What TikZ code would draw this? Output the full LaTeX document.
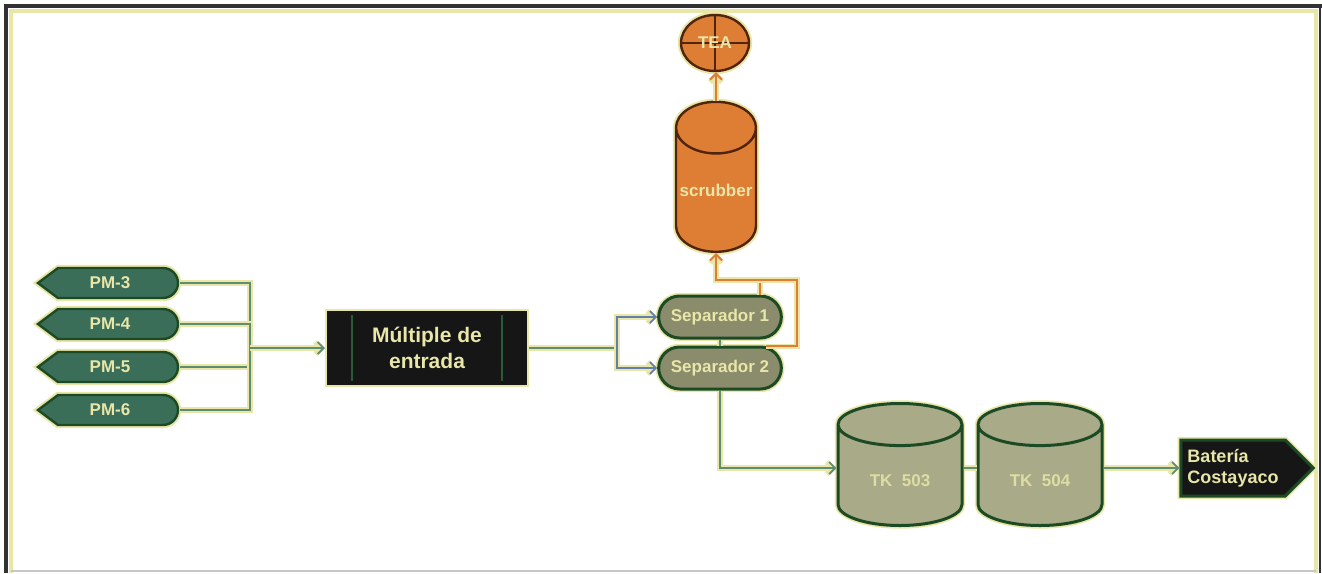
\documentclass[tikz,border=0pt]{standalone}
\usepackage{fontspec}
\setmainfont{Liberation Sans}
\usetikzlibrary{arrows.meta,shapes.geometric,shapes.misc,shapes.symbols}
\definecolor{cream}{RGB}{232,230,168}
\definecolor{darkgreen}{RGB}{28,74,36}
\definecolor{pmgreen}{RGB}{58,110,88}
\definecolor{sepolive}{RGB}{138,140,108}
\definecolor{tkolive}{RGB}{168,170,136}
\definecolor{pipegreen}{RGB}{96,140,112}
\definecolor{pipeblue}{RGB}{100,128,170}
\definecolor{gasorange}{RGB}{222,126,52}
\definecolor{rustbrown}{RGB}{80,36,14}
\definecolor{framegray}{RGB}{50,50,50}
\definecolor{boxblack}{RGB}{22,22,22}
\definecolor{slotgreen}{RGB}{40,92,52}

\begin{document}
\begin{tikzpicture}[
  x=0.5pt, y=-0.5pt,
  font=\fontsize{8.5}{10}\selectfont\bfseries,
  halo/.style={preaction={draw=cream, line width=3.2pt}},
  pmshape/.style={fill=pmgreen, draw=darkgreen, line width=1.2pt, halo},
  pmtag/.style={minimum width=70pt, minimum height=15pt, inner sep=0pt, text=cream},
  multbox/.style={rectangle, fill=boxblack, draw=cream, line width=1pt, minimum width=101pt, minimum height=38pt, align=center, text=cream, font=\fontsize{10.5}{13}\selectfont\bfseries},
  sepbox/.style={rounded rectangle, fill=sepolive, draw=darkgreen, line width=1.5pt, halo, minimum width=68pt, minimum height=21pt, text=cream},
  tank/.style={cylinder, shape border rotate=90, aspect=0.57, fill=tkolive, draw=darkgreen, line width=1.5pt, halo, minimum width=62pt, minimum height=61pt, text=cream!85!tkolive},
  scrubtank/.style={cylinder, shape border rotate=90, aspect=0.71, fill=gasorange, draw=rustbrown, line width=1.2pt, halo, minimum width=40pt, minimum height=75pt, text=cream, inner sep=0pt},
  teanode/.style={ellipse, fill=gasorange, draw=rustbrown, line width=1.2pt, halo, minimum width=34pt, minimum height=28pt, inner sep=0pt, text=cream,
    path picture={\draw[rustbrown, line width=1.1pt] (path picture bounding box.north) -- (path picture bounding box.south) (path picture bounding box.west) -- (path picture bounding box.east);}},
  batnode/.style={signal, signal to=east, fill=boxblack, draw=darkgreen, line width=1.5pt, halo, minimum width=65pt, minimum height=28pt, align=left, text=cream, font=\fontsize{9}{10.5}\selectfont\bfseries},
  pipe/.style={draw=pipegreen, line width=0.9pt, preaction={draw=cream, line width=2.6pt}},
  bluepipe/.style={draw=pipeblue, line width=0.9pt, preaction={draw=cream, line width=2.6pt}},
  gaspipe/.style={draw=gasorange, line width=1pt, preaction={draw=cream, line width=2.8pt}},
  tip/.style={-{Straight Barb[length=3pt,width=6pt]}}
]
\useasboundingbox (0,0) rectangle (1322,573);

% marco
\draw[cream, line width=1.6pt] (11,573) -- (11,11) -- (1316,11) -- (1316,573);
\draw[framegray, line width=2pt] (6,573) -- (6,6) -- (1322,6);
\draw[framegray, line width=1pt] (1320,6) -- (1320,573);
\draw[gray!45, line width=0.6pt] (11,571) -- (1316,571);

% pozos
\foreach \n/\y in {3/283,4/324,5/367,6/410}{
  \draw[pmshape] (38,\y) -- (58,\y-15) [rounded corners=7.5pt] -- (178,\y-15) -- (178,\y+15) [sharp corners] -- (58,\y+15) -- cycle;
  \node[pmtag] (pm\n) at (110,\y) {PM-\n};
}

\coordinate (bus) at (250,348);
\coordinate (split) at (617,348);
\coordinate (oj) at (760,280);
\coordinate (loopR) at (797,280);

\node[multbox] (mult) at (427,348) {Múltiple de\\entrada};
\draw[slotgreen, line width=1.2pt] ([xshift=13.5pt,yshift=-3pt]mult.north west) -- ([xshift=13.5pt,yshift=3pt]mult.south west);
\draw[slotgreen, line width=1.2pt] ([xshift=-13.5pt,yshift=-3pt]mult.north east) -- ([xshift=-13.5pt,yshift=3pt]mult.south east);

\node[sepbox] (sep1) at (720,317) {Separador 1};
\node[sepbox] (sep2) at (720,368) {Separador 2};

\node[scrubtank, anchor=south] (scrub) at (716,253) {scrubber};
\node[teanode] (tea) at (715,43) {TEA};

\node[tank, anchor=south] (tk1) at (900,527) {TK\ \ 503};
\node[tank, anchor=south] (tk2) at (1040,527) {TK\ \ 504};
\node[batnode] (bat) at (1233,468) {Batería\\Costayaco};

% lineas
\foreach \p in {pm3,pm4,pm5,pm6}
  \draw[pipe] (\p.east) -| (bus);
\draw[pipe, tip] (bus) -- (mult.west);
\draw[pipe] (mult.east) -- (split);
\draw[bluepipe, tip] (split) |- (sep1.west);
\draw[bluepipe, tip] (split) |- (sep2.west);
\draw[pipe] (sep1.south) -- (sep2.north);

\draw[gaspipe] (sep1.north -| oj) -- (oj);
\draw[gaspipe, tip] (sep2.25) -| (loopR) -| (scrub.south);
\draw[gaspipe, tip] (scrub.north) -- (scrub.north |- tea.south);

\draw[pipe, tip] (sep2.south) |- (tk1.west |- bat.west);
\draw[pipe] (tk1.east |- bat.west) -- (tk2.west |- bat.west);
\draw[pipe, tip] (tk2.east |- bat.west) -- (bat.west);
\end{tikzpicture}
\end{document}
